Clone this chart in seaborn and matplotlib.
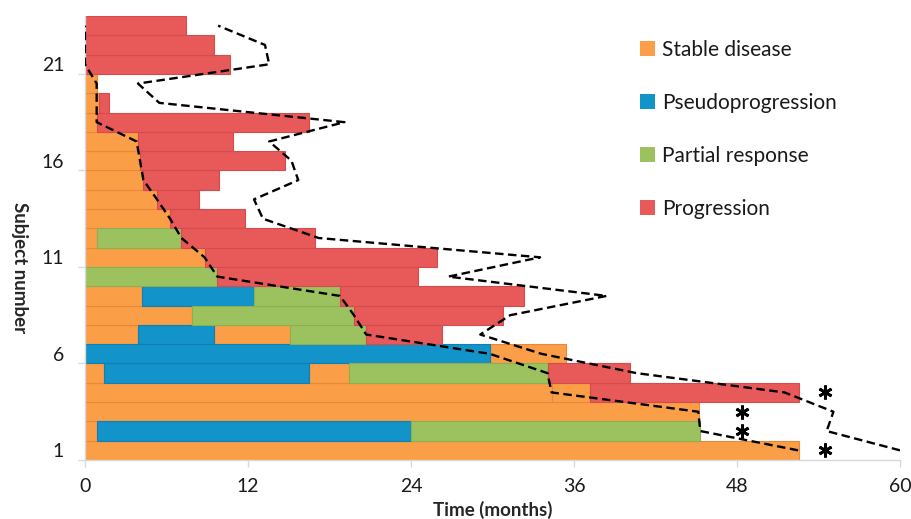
import numpy as np
import pandas as pd
import matplotlib
matplotlib.use("Agg")
import matplotlib.pyplot as plt
import seaborn as sns
from matplotlib.patches import Patch

# ---- data -------------------------------------------------------------
subjects = list(range(1, 24))

# state codes per subject: S = stable disease, P = pseudoprogression,
# R = partial response, X = progression; each code pairs with an end time
seg_states = [
    "S", "SPR", "S", "SSX", "SPSRX", "PS", "SPSRX", "SRX", "SPRX", "RX",
    "SX", "SRX", "SX", "SX", "SX", "SX", "SX", "SX", "SX", "S",
    "X", "X", "X",
]
seg_ends = [
    [52.55],
    [0.9, 24.0, 45.3],
    [45.2],
    [34.35, 37.2, 52.6],
    [1.42, 16.5, 19.4, 34.05, 40.1],
    [29.8, 35.4],
    [3.9, 9.5, 15.1, 20.7, 26.3],
    [7.9, 19.8, 30.75],
    [4.17, 12.46, 18.77, 32.3],
    [9.74, 24.5],
    [8.8, 25.9],
    [0.9, 7.1, 16.9],
    [6.26, 11.8],
    [5.3, 8.4],
    [4.3, 9.9],
    [4.05, 14.7],
    [3.9, 10.9],
    [0.9, 16.5],
    [1.05, 1.8],
    [0.85],
    [10.7],
    [9.5],
    [7.4],
]

# time to progression and overall follow-up per subject
pfs_time = [52.5, 45.3, 45.15, 34.35, 34.05, 29.8, 20.7, 19.8, 18.77, 9.74,
            8.8, 7.1, 6.26, 5.3, 4.3, 4.05, 3.8, 0.86, 0.86, 0.86,
            0.0, 0.0, 0.0]
os_time = [60.0, 54.6, 55.1, 51.5, 40.6, 33.6, 29.1, 31.3, 38.4, 26.75,
           33.5, 17.2, 13.1, 12.44, 15.7, 15.2, 13.56, 19.1, 5.47, 3.9,
           13.56, 13.25, 9.8]

# ongoing subjects
ongoing_subject = [1, 2, 3, 4]
ongoing_x = [54.5, 48.4, 48.4, 54.5]

state_names = {"S": "Stable disease", "P": "Pseudoprogression",
               "R": "Partial response", "X": "Progression"}
state_colors = {"S": "#FA9E48", "P": "#1293C9", "R": "#9CC15F", "X": "#E85959"}
state_edges = {"S": "#E8883A", "P": "#117FB0", "R": "#8BB050", "X": "#D44C4C"}

# ---- segment table ----------------------------------------------------
rows = []
for subj, states, ends in zip(subjects, seg_states, seg_ends):
    start = 0.0
    for st, end in zip(states, ends):
        rows.append({"subject": subj, "state": st, "start": start, "end": end})
        start = end
seg = pd.DataFrame(rows)
seg["length"] = seg["end"] - seg["start"]

lines = pd.DataFrame({"subject": subjects, "pfs": pfs_time, "os": os_time})

# ---- figure -----------------------------------------------------------
sns.set_theme(style="white")
plt.rcParams["font.family"] = ["Lato", "DejaVu Sans"]

W, H = 911, 519
fig = plt.figure(figsize=(W / 100, H / 100), dpi=100)
ax = fig.add_axes([85 / W, 1 - 460 / H, 815 / W, 444 / H])

for st in ["S", "P", "R", "X"]:
    d = seg[seg["state"] == st]
    ax.barh(d["subject"], d["length"], left=d["start"], height=1.0,
            color=state_colors[st], edgecolor=state_edges[st], linewidth=0.8,
            zorder=2)

dash = (0, (3.6, 1.9))
sns.lineplot(data=lines, x="pfs", y="subject", sort=False, estimator=None,
             orient="y", color="black", linewidth=1.7, linestyle=dash,
             ax=ax, zorder=4)
sns.lineplot(data=lines, x="os", y="subject", sort=False, estimator=None,
             orient="y", color="black", linewidth=1.7, linestyle=dash,
             ax=ax, zorder=4)

ax.plot(ongoing_x, ongoing_subject, linestyle="none", marker=(6, 2, 0),
        markersize=10, markeredgewidth=2.0, color="black", zorder=5)

# ---- axes -------------------------------------------------------------
ax.set_xlim(0, 60)
ax.set_ylim(0.5, 23.5)
ax.set_xticks([0, 12, 24, 36, 48, 60])
ax.set_yticks([1, 6, 11, 16, 21])
ax.set_yticks([0.5, 5.5, 10.5, 15.5, 20.5], minor=True)

tick_col = "#D9D9D9"
ax.tick_params(axis="y", which="major", left=False, length=0, pad=15,
               labelsize=14, labelcolor="#1a1a1a")
ax.tick_params(axis="y", which="minor", left=True, length=5, width=1,
               color=tick_col, direction="out")
ax.tick_params(axis="x", which="major", bottom=True, length=5, width=1,
               color=tick_col, direction="out", pad=8, labelsize=14,
               labelcolor="#1a1a1a")

for side in ["top", "right"]:
    ax.spines[side].set_visible(False)
for side in ["left", "bottom"]:
    ax.spines[side].set_color(tick_col)
    ax.spines[side].set_linewidth(1)
ax.grid(False)

ax.set_xlabel("Time (months)", fontsize=13.5, fontweight="bold", va="center")
ax.xaxis.set_label_coords(0.5, -(510 - 460) / 444)
ax.set_ylabel("Subject number", fontsize=13.5, fontweight="bold",
              rotation=-90, va="center", ha="center")
ax.yaxis.set_label_coords((19 - 85) / 815, (460 - 268) / 444)

handles = [Patch(facecolor=state_colors[s], edgecolor="none")
           for s in ["S", "P", "R", "X"]]
labels = [state_names[s] for s in ["S", "P", "R", "X"]]
ax.legend(handles, labels, loc="upper left",
          bbox_to_anchor=(640 / W, 1 - 40 / H), bbox_transform=fig.transFigure,
          frameon=False, fontsize=15, handlelength=0.7, handleheight=0.7,
          handletextpad=0.35, labelspacing=1.58, borderpad=0, borderaxespad=0,
          labelcolor="#1a1a1a")

fig.savefig("out.png", dpi=100)
